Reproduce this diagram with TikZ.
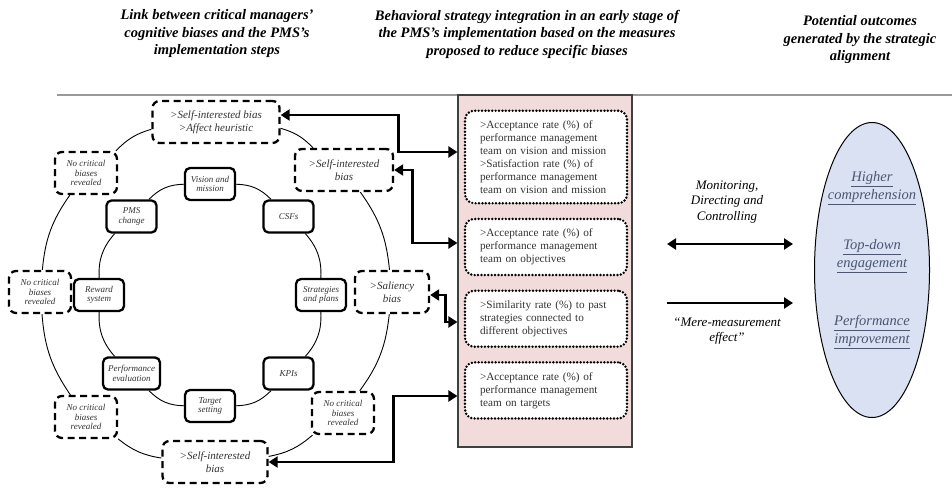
\documentclass[tikz,border=0pt]{standalone}
\usepackage{fontspec}
\setmainfont{Liberation Serif}
\usetikzlibrary{shapes.geometric,arrows.meta,positioning}
\definecolor{panelpink}{HTML}{F2DCDB}
\definecolor{outblue}{HTML}{D9E1F2}
\definecolor{outtext}{HTML}{4A5672}

\begin{document}
\begin{tikzpicture}[x=1pt, y=1pt,
  phase/.style={draw, line width=2.3pt, rounded corners=5pt, fill=white, align=center,
                minimum width=50pt, minimum height=32pt, inner xsep=5pt,
                font=\fontsize{9}{9.5}\selectfont\itshape, text=black!80},
  bias/.style={draw, line width=2.3pt, dash pattern=on 7pt off 4.5pt, rounded corners=7pt,
               fill=white, align=center, minimum height=42pt, text=black!80},
  nobias/.style={bias, minimum width=62pt, font=\fontsize{9}{9.3}\selectfont\itshape},
  selfbias/.style={bias, font=\fontsize{11}{12.7}\selectfont\itshape},
  measure/.style={draw, line width=2.7pt, dash pattern=on 0pt off 3.4pt, line cap=round,
                  rounded corners=9pt, fill=white, text width=132pt, align=left,
                  minimum width=162pt, inner ysep=10pt,
                  font=\fontsize{11.2}{12.9}\selectfont, text=black!80},
  head/.style={align=center, font=\fontsize{14.5}{17.5}\selectfont\bfseries\itshape},
  flow/.style={align=center, font=\fontsize{13}{15.5}\selectfont\itshape},
  outcome/.style={align=center, text=outtext, font=\fontsize{14.5}{18.5}\selectfont\itshape},
  arc/.style={line width=0.9pt},
  arr/.style={-{Triangle[length=9pt,width=11pt]}, line width=2.8pt},
  darr/.style={{Triangle[length=9pt,width=11pt]}-{Triangle[length=9pt,width=11pt]}, line width=2.8pt},
  node distance=13pt]
\useasboundingbox (0,0) rectangle (952,-487);
% column headings
\node[head] (h1) at (217,-34) {Link between critical managers'\\ cognitive biases and the PMS's\\ implementation steps};
\node[head] (h2) at (527,-34) {Behavioral strategy integration in an early stage of\\ the PMS's implementation based on the measures\\ proposed to reduce specific biases};
\node[head] (h3) at (860,-40) {Potential outcomes\\ generated by the strategic\\ alignment};
\draw[black!40, line width=1.5pt] (57,-95) -- (952,-95);
% implementation steps (inner ring)
\node[phase] (vis) at (210,-184) {Vision and\\ mission};
\node[phase] (csf) at (288.5,-216.5) {CSFs};
\node[phase] (stp) at (321,-295) {Strategies\\ and plans};
\node[phase] (kpi) at (288.5,-373.5) {KPIs};
\node[phase] (tgt) at (210,-406) {Target\\ setting};
\node[phase] (per) at (131.5,-373.5) {Performance\\ evaluation};
\node[phase] (rew) at (99,-295) {Reward\\ system};
\node[phase] (pms) at (131.5,-216.5) {PMS\\ change};
% critical biases (outer ring)
\node[selfbias, minimum width=127pt] (btop) at (216,-122) {>Self-interested bias\\ >Affect heuristic};
\node[selfbias, minimum width=98pt] (btr) at (344,-170) {>Self-interested\\ bias};
\node[selfbias, minimum width=74pt] (bsal) at (392,-292) {>Saliency\\ bias};
\node[nobias] (bbr) at (343,-413) {No critical\\ biases\\ revealed};
\node[selfbias, minimum width=105pt] (bbot) at (215,-462) {>Self-interested\\ bias};
\node[nobias] (bbl) at (86,-417) {No critical\\ biases\\ revealed};
\node[nobias] (blft) at (40,-292) {No critical\\ biases\\ revealed};
\node[nobias] (btl) at (86,-173) {No critical\\ biases\\ revealed};
% ring arcs
\draw[arc] (vis) to[bend left=22] (csf);
\draw[arc] (csf) to[bend left=22] (stp);
\draw[arc] (stp) to[bend left=22] (kpi);
\draw[arc] (kpi) to[bend left=22] (tgt);
\draw[arc] (tgt) to[bend left=22] (per);
\draw[arc] (per) to[bend left=22] (rew);
\draw[arc] (rew) to[bend left=22] (pms);
\draw[arc] (pms) to[bend left=22] (vis);
\draw[arc] (btop) to[bend left=15] (btr);
\draw[arc] (btr) to[bend left=15] (bsal);
\draw[arc] (bsal) to[bend left=15] (bbr);
\draw[arc] (bbr) to[bend left=15] (bbot);
\draw[arc] (bbot) to[bend left=15] (bbl);
\draw[arc] (bbl) to[bend left=15] (blft);
\draw[arc] (blft) to[bend left=15] (btl);
\draw[arc] (btl) to[bend left=15] (btop);
% measures panel
\node[draw=black!75, line width=1.2pt, fill=panelpink, minimum width=174pt, minimum height=352pt] (panel) at (545,-271) {};
\node[measure] (m1) at (546,-157) {>Acceptance rate (\%) of\\ performance management\\ team on vision and mission\\ >Satisfaction rate (\%) of\\ performance management\\ team on vision and mission};
\node[measure, below=of m1] (m2) {>Acceptance rate (\%) of\\ performance management\\ team on objectives};
\node[measure, below=of m2] (m3) {>Similarity rate (\%) to past\\ strategies connected to\\ different objectives};
\node[measure, below=of m3] (m4) {>Acceptance rate (\%) of\\ performance management\\ team on targets};
\draw[darr] ([yshift=7pt]btop.east) -- ++(118,0) |- ([yshift=119pt]panel.west);
\draw[darr] (btr.east) -- ++(18,0) |- ([yshift=28pt]panel.west);
\draw[darr] ([yshift=-3pt]bsal.east) -- ++(15,0) |- ([yshift=-51pt]panel.west);
\draw[darr] (bbot.east) -- ++(125,0) |- ([yshift=-125pt]panel.west);
% outcomes
\node[draw, ellipse, fill=outblue, line width=1pt, minimum width=115pt, minimum height=295pt, inner sep=0pt] (outc) at (872,-270) {};
\node[outcome] (o1) at (872,-188) {\underline{Higher}\\ \underline{comprehension}};
\node[outcome] (o2) at (872,-256) {\underline{Top-down}\\ \underline{engagement}};
\node[outcome] (o3) at (872,-332) {\underline{Performance}\\ \underline{improvement}};
\node[flow] (mon) at (727,-202) {Monitoring,\\ Directing and\\ Controlling};
\node[flow] (mere) at (727,-331) {``Mere-measurement\\ effect''};
\coordinate (d1s) at (667,-244);
\coordinate (d1e) at (793,-244);
\coordinate (d2s) at (667,-303);
\coordinate (d2e) at (793,-303);
\draw[darr] (d1s) -- (d1e);
\draw[arr] (d2s) -- (d2e);
\end{tikzpicture}
\end{document}
